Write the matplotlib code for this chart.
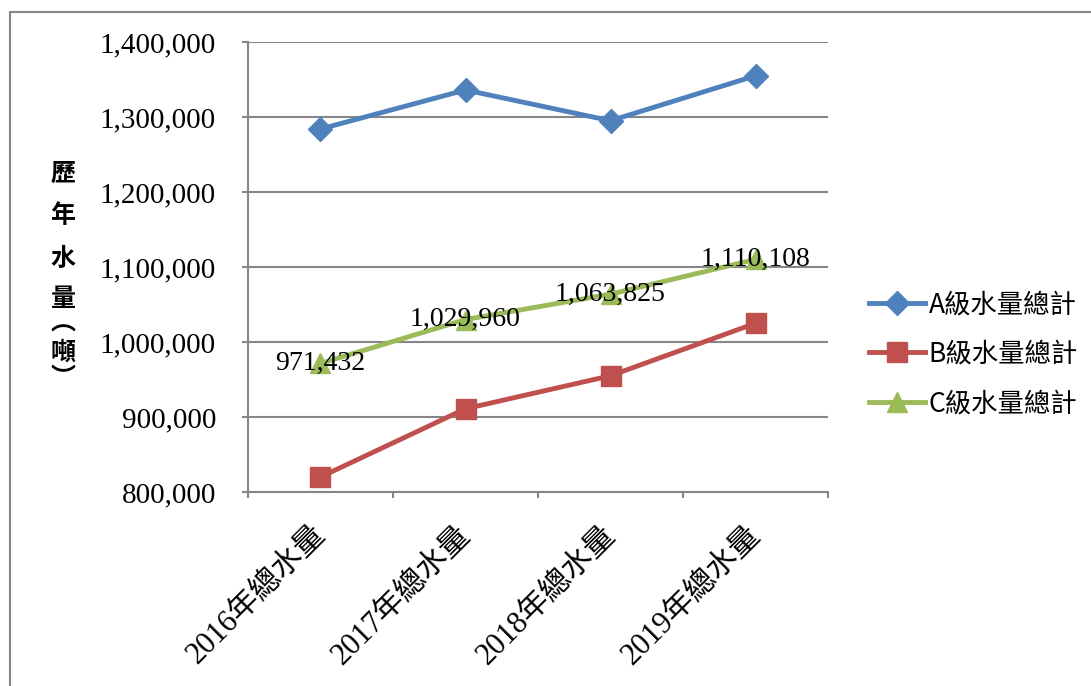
import matplotlib
matplotlib.use("Agg")
import matplotlib.pyplot as plt
import matplotlib.transforms as mtransforms
from matplotlib.lines import Line2D
from matplotlib.ticker import FuncFormatter, FixedLocator

# yearly totals by water grade
years = ["2016年總水量", "2017年總水量", "2018年總水量", "2019年總水量"]
grade_a = [1284000, 1336000, 1295000, 1355000]
grade_b = [820000, 911000, 955000, 1025000]
grade_c = [971432, 1029960, 1063825, 1110108]
series_names = ["A級水量總計", "B級水量總計", "C級水量總計"]

serif = ["Liberation Serif", "Noto Sans CJK TC"]
cjk = ["Noto Sans CJK TC", "DejaVu Sans"]
grid_gray = "#868686"

fig = plt.figure(figsize=(10.91, 6.86), dpi=100)
ax = fig.add_axes([0.2273, 0.2828, 0.5317, 0.656])

x = range(len(years))
ax.plot(x, grade_a, color="#4F81BD", lw=3.5, marker="D", ms=12, label=series_names[0])
ax.plot(x, grade_b, color="#C0504D", lw=3.5, marker="s", ms=15, label=series_names[1])
ax.plot(x, grade_c, color="#9BBB59", lw=3.5, marker="^", ms=14, label=series_names[2])

# value labels for grade C, centred on the points
for i, v in enumerate(grade_c):
    ax.text(i, v, f"{v:,}", ha="center", va="center", fontsize=20, family=serif)

ax.set_xlim(-0.5, len(years) - 0.5)
ax.set_ylim(800000, 1400000)
ax.set_yticks(range(800000, 1400001, 100000))
ax.yaxis.set_major_formatter(FuncFormatter(lambda v, p: f"{int(v):,}"))
for lab in ax.get_yticklabels():
    lab.set_family(serif)
    lab.set_fontsize(21)
ax.tick_params(axis="y", length=4.5, color=grid_gray, pad=18.5, width=1.5)

# category labels, ticks on the category boundaries
ax.set_xticks(list(x))
ax.set_xticklabels(years, rotation=45, ha="right", rotation_mode="anchor",
                   fontsize=22, family=serif)
ax.tick_params(axis="x", length=0, pad=16)
shift = mtransforms.ScaledTranslation(-10 / 100, -6 / 100, fig.dpi_scale_trans)
for lab in ax.get_xticklabels():
    lab.set_transform(lab.get_transform() + shift)
ax.xaxis.set_minor_locator(FixedLocator([-0.5, 0.5, 1.5, 2.5, 3.5]))
ax.tick_params(axis="x", which="minor", length=4.5, color=grid_gray, width=1.5)

ax.grid(axis="y", color=grid_gray, lw=1.5)
ax.set_axisbelow(True)
for side in ["top", "right"]:
    ax.spines[side].set_visible(False)
for side in ["left", "bottom"]:
    ax.spines[side].set_color(grid_gray)
    ax.spines[side].set_linewidth(1.5)

# vertical axis title, stacked one character at a time
title_chars = "歷年水量︵噸︶"
title_rows = [174, 216, 259, 299, 324, 353, 378]
for ch, row in zip(title_chars, title_rows):
    fig.text(63 / 1091, 1 - row / 686, ch, ha="center", va="center",
             fontsize=18, fontweight="bold", family=cjk)

leg = fig.legend(loc="upper left", bbox_to_anchor=(0.775, 0.61), frameon=False,
                 prop={"family": cjk, "size": 19}, handlelength=2.1,
                 labelspacing=0.85, handletextpad=0.15)

# outer chart border
fig.add_artist(Line2D([0.0092, 0.0092], [0.0, 0.9825], color=grid_gray, lw=1.5))
fig.add_artist(Line2D([0.0092, 1.0], [0.9825, 0.9825], color=grid_gray, lw=1.5))

fig.savefig("out.png", dpi=100)
